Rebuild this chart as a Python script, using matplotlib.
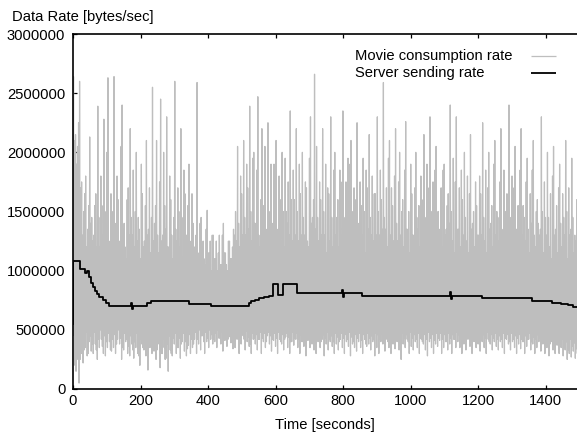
import numpy as np
import matplotlib
matplotlib.use('Agg')
import matplotlib.pyplot as plt

plt.rcParams['font.family'] = ['Liberation Sans', 'DejaVu Sans']

# ---------------- data (values in kB/s) ----------------
bin_seconds = 6  # two peak and two trough readings per 6-second bin

movie_high = [
    2640, 2150, 2050, 2600, 1750, 1500, 1800, 1350, 2130, 1450,
    1300, 1650, 2390, 1200, 1550, 2280, 1350, 2630, 1150, 1500,
    2640, 1250, 1600, 1150, 2400, 1400, 1100, 1700, 2200, 1300,
    1200, 2000, 1450, 1100, 1650, 1250, 2100, 1350, 1150, 2550,
    1400, 2100, 1150, 2450, 1300, 1550, 2300, 1200, 1600, 1100,
    2600, 1250, 1500, 2200, 1100, 1650, 1300, 1900, 1150, 1400,
    1200, 2590, 1100, 1450, 1250, 1050, 1510, 1150, 1000, 1300,
    1100, 1000, 1300, 1050, 1400, 1150, 1000, 1250, 1100, 1350,
    1500, 2050, 1200, 1650, 2100, 1300, 1700, 2390, 1250, 2000,
    1400, 2470, 1200, 2200, 1550, 1300, 2250, 1450, 1200, 1900,
    2100, 1300, 1600, 2000, 1200, 1500, 1750, 2350, 1250, 1600,
    2200, 1250, 1650, 2000, 1300, 1700, 1200, 2300, 1450, 2660,
    2050, 1250, 1600, 2200, 1300, 1150, 1650, 2300, 1200, 2000,
    1450, 1200, 1750, 2350, 1300, 1150, 1900, 2100, 1250, 1600,
    2250, 1200, 1550, 1950, 1150, 1700, 2150, 1300, 1250, 1650,
    2300, 1300, 1600, 2590, 1350, 1200, 2100, 1700, 1250, 2200,
    1250, 2000, 1500, 1200, 2260, 1350, 1150, 1650, 1300, 2000,
    1350, 1200, 1600, 2150, 1250, 1700, 2300, 1150, 1400, 2050,
    1500, 1250, 1200, 1900, 1350, 1650, 2400, 1250, 1150, 2300,
    1350, 1200, 1600, 2000, 1250, 1150, 2150, 1400, 1200, 1550,
    1300, 1650, 2250, 1250, 1150, 2000, 1400, 1200, 2100, 1500,
    1250, 2200, 1200, 1400, 1650, 2400, 1300, 1150, 2050, 1350,
    1200, 2200, 1550, 1250, 1950, 1150, 1400, 2100, 1200, 1600,
    1300, 2300, 1150, 1450, 2000, 1200, 1100, 2050, 1350, 1150,
    1900, 1200, 1450, 2100, 1100, 1300, 1950, 1150, 1250, 1800,
]

movie_high2 = [
    2100, 1900, 2250, 1700, 1300, 1650, 1200, 1550, 1400, 1250,
    1550, 1200, 1450, 1800, 1300, 1500, 2000, 1250, 1650, 1350,
    1400, 1800, 1250, 2050, 1350, 1200, 1600, 1300, 1450, 1850,
    1500, 1250, 1350, 1900, 1200, 1550, 1300, 1700, 1450, 1250,
    1550, 1300, 1750, 1250, 2000, 1350, 1200, 1800, 1300, 1450,
    1350, 1700, 1200, 1450, 1850, 1300, 1550, 1250, 1650, 1200,
    1300, 1150, 1400, 1200, 1100, 1350, 1150, 1250, 1300, 1100,
    1250, 1150, 1050, 1300, 1150, 1050, 1250, 1100, 1200, 1300,
    1250, 1400, 1800, 1300, 1450, 1900, 1350, 1500, 1950, 1400,
    1850, 1300, 1600, 1450, 2050, 1350, 1500, 1900, 1400, 1550,
    1350, 1800, 1250, 1500, 1950, 1400, 1300, 1600, 1850, 1300,
    1500, 1900, 1300, 1450, 1750, 1250, 1950, 1400, 1600, 1350,
    1450, 1750, 1300, 1500, 1900, 1700, 1250, 1450, 1850, 1300,
    1600, 1850, 1300, 1450, 1750, 1950, 1350, 1500, 1700, 1250,
    1400, 1750, 1300, 1500, 1850, 1350, 1450, 1800, 1650, 1300,
    1500, 1850, 1350, 1450, 1700, 1950, 1300, 1550, 1800, 1400,
    1750, 1300, 1600, 1850, 1350, 1500, 1900, 1300, 1700, 1450,
    1550, 1800, 1300, 1450, 1900, 1350, 1500, 1750, 1850, 1300,
    1350, 1700, 1850, 1300, 1550, 1400, 1500, 1950, 1750, 1350,
    1700, 1850, 1300, 1450, 1800, 1650, 1350, 1500, 1750, 1300,
    1800, 1300, 1450, 1850, 1700, 1350, 1550, 1900, 1300, 1450,
    1750, 1350, 1850, 1500, 1300, 1450, 1800, 1700, 1350, 1550,
    1850, 1300, 1450, 1750, 1350, 1650, 1850, 1300, 1500, 1400,
    1350, 1500, 1750, 1300, 1450, 1650, 1800, 1300, 1550, 1700,
    1400, 1650, 1300, 1500, 1700, 1350, 1450, 1300, 1600, 1350,
]

movie_low = [
    550, 200, 250, 50, 300, 220, 350, 280, 400, 320,
    300, 380, 250, 350, 420, 300, 280, 350, 400, 320,
    350, 300, 420, 380, 250, 330, 400, 300, 280, 380,
    260, 350, 300, 200, 380, 330, 280, 160, 350, 300,
    320, 250, 380, 180, 300, 350, 260, 150, 330, 280,
    380, 300, 350, 260, 400, 320, 280, 370, 300, 350,
    420, 300, 380, 330, 450, 300, 400, 350, 420, 380,
    400, 350, 430, 380, 320, 410, 360, 440, 390, 340,
    350, 420, 300, 380, 450, 330, 400, 360, 300, 420,
    380, 330, 420, 300, 400, 350, 450, 380, 320, 410,
    360, 300, 420, 380, 330, 440, 350, 300, 400, 370,
    420, 350, 300, 400, 360, 280, 410, 350, 380, 330,
    300, 400, 350, 420, 280, 380, 330, 400, 360, 300,
    380, 330, 420, 350, 300, 400, 360, 280, 380, 350,
    320, 400, 350, 300, 420, 360, 380, 330, 400, 280,
    350, 300, 400, 380, 320, 420, 350, 300, 380, 340,
    400, 330, 250, 380, 350, 420, 300, 360, 330, 400,
    350, 300, 420, 380, 330, 280, 400, 350, 300, 380,
    360, 410, 300, 350, 400, 330, 380, 300, 420, 350,
    400, 350, 300, 380, 330, 420, 360, 300, 400, 350,
    380, 320, 400, 350, 300, 420, 380, 330, 400, 360,
    330, 400, 350, 300, 420, 380, 330, 400, 350, 300,
    380, 340, 400, 300, 360, 420, 330, 380, 300, 350,
    400, 320, 380, 300, 350, 280, 400, 330, 300, 370,
    300, 350, 280, 330, 250, 300, 270, 320, 260, 300,
]

movie_low2 = [
    450, 150, 380, 250, 420, 330, 480, 300, 450, 380,
    480, 330, 420, 500, 360, 450, 400, 470, 330, 420,
    460, 380, 500, 430, 350, 470, 420, 360, 450, 330,
    400, 470, 280, 420, 350, 450, 300, 420, 380, 460,
    420, 330, 460, 300, 420, 250, 380, 450, 300, 430,
    470, 350, 430, 380, 470, 400, 340, 460, 420, 380,
    480, 420, 500, 450, 400, 480, 430, 500, 460, 420,
    470, 500, 430, 480, 450, 500, 420, 470, 500, 450,
    430, 480, 400, 460, 420, 490, 440, 380, 470, 430,
    460, 420, 480, 430, 470, 400, 480, 450, 420, 470,
    430, 480, 400, 460, 420, 470, 440, 400, 480, 430,
    470, 420, 460, 400, 480, 430, 460, 410, 470, 440,
    420, 470, 400, 460, 430, 480, 420, 450, 400, 470,
    440, 400, 470, 430, 460, 420, 480, 440, 400, 460,
    430, 470, 410, 460, 380, 470, 430, 450, 420, 470,
    460, 420, 470, 430, 480, 400, 460, 420, 470, 430,
    450, 410, 470, 430, 460, 400, 480, 430, 460, 420,
    470, 430, 400, 460, 420, 480, 430, 460, 410, 470,
    430, 470, 420, 460, 400, 470, 430, 460, 420, 480,
    460, 420, 470, 400, 450, 430, 470, 420, 460, 430,
    470, 420, 460, 430, 480, 400, 460, 430, 470, 420,
    450, 420, 470, 430, 460, 400, 470, 420, 450, 430,
    460, 420, 400, 450, 420, 470, 400, 440, 420, 460,
    430, 400, 450, 410, 440, 380, 460, 420, 400, 440,
    380, 420, 350, 400, 330, 420, 360, 390, 340, 380,
]

server_t = [0, 1, 20, 36, 40, 46, 52, 58, 64, 70, 78, 88, 98, 108, 172, 174,
            178, 205, 218, 232, 345, 410, 522, 528, 540, 552, 566, 580, 592,
            606, 622, 664, 798, 800, 802, 855, 1118, 1120, 1123, 1212, 1360,
            1420, 1445, 1465, 1482, 1493]
server_rate = [550, 1080, 1010, 980, 1000, 950, 900, 860, 825, 800, 775, 750,
               725, 700, 730, 680, 700, 705, 725, 745, 720, 700, 725, 740, 750,
               765, 775, 790, 885, 795, 890, 810, 840, 780, 810, 790, 820, 760,
               790, 770, 740, 730, 720, 710, 690, 690]

series_labels = ['Movie consumption rate', 'Server sending rate']
x_ticks = [0, 200, 400, 600, 800, 1000, 1200, 1400]
y_ticks = [0, 500000, 1000000, 1500000, 2000000, 2500000, 3000000]
y_tick_labels = ['0', '500000', '1000000', '1500000', '2000000', '2500000', '3000000']

# ---------------- build series ----------------
n = len(movie_high)
base_t = np.arange(n) * bin_seconds
t_movie = np.empty(4 * n)
v_movie = np.empty(4 * n)
q = bin_seconds / 4
t_movie[0::4] = base_t
t_movie[1::4] = base_t + q
t_movie[2::4] = base_t + 2 * q
t_movie[3::4] = base_t + 3 * q
v_movie[0::4] = np.array(movie_low) * 1000
v_movie[1::4] = np.array(movie_high) * 1000
v_movie[2::4] = np.array(movie_low2) * 1000
v_movie[3::4] = np.array(movie_high2) * 1000

# ---------------- figure ----------------
W, H = 577, 438
fig = plt.figure(figsize=(W / 100, H / 100), dpi=100)
ax = fig.add_axes([73 / W, 49 / H, 504 / W, 355 / H])

gray = '#bebebe'
ax.plot(t_movie, v_movie, color=gray, lw=0.9)
ax.plot(server_t, np.array(server_rate) * 1000, color='black', lw=1.3,
        drawstyle='steps-post')

ax.set_xlim(0, 1493)
ax.set_ylim(0, 3000000)
ax.set_xticks(x_ticks)
ax.set_xticklabels([str(v) for v in x_ticks])
ax.set_yticks(y_ticks)
ax.set_yticklabels(y_tick_labels)

fs = 10.6
ax.tick_params(axis='both', direction='in', length=3, width=0.9, top=True,
               right=False, labelsize=fs)
ax.tick_params(axis='y', pad=5.5)
ax.tick_params(axis='x', pad=3.5)
for s in ['left', 'bottom', 'top']:
    ax.spines[s].set_linewidth(1.2)
ax.spines['right'].set_visible(False)

ax.set_xlabel('Time [seconds]', fontsize=fs, labelpad=7.5)
fig.text(12.5 / W, 1 - 17 / H, 'Data Rate [bytes/sec]', fontsize=fs,
         ha='left', va='center')

# key (gnuplot style: left-justified text, sample line at right)
key_rows_y = [0.9389, 0.8893]
key_colors = [gray, 'black']
key_widths = [0.9, 1.3]
for lab, yy, c, lw in zip(series_labels, key_rows_y, key_colors, key_widths):
    ax.text(0.5595, yy, lab, transform=ax.transAxes, fontsize=fs,
            ha='left', va='center')
    ax.plot([0.9087, 0.9583], [yy, yy], transform=ax.transAxes, color=c,
            lw=lw, solid_capstyle='butt')

fig.savefig('out.png', dpi=100)
